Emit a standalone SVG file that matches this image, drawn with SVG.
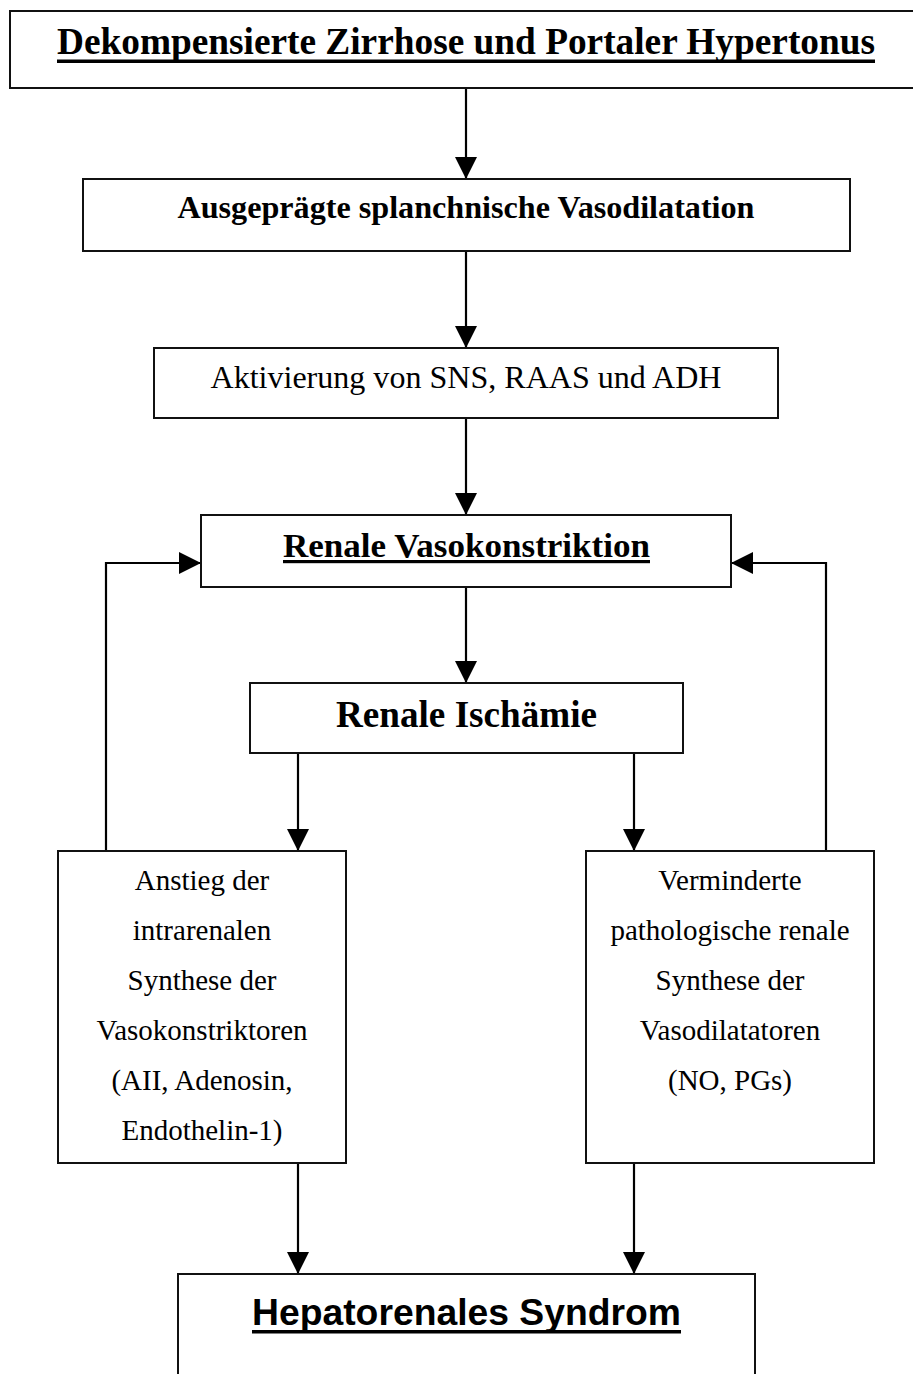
<svg xmlns="http://www.w3.org/2000/svg" width="913" height="1374" viewBox="0 0 913 1374">
<style>
.box{fill:#fff;stroke:#111;stroke-width:2}
.ser{font-family:"Liberation Serif","Times New Roman",serif;fill:#000;text-anchor:middle}
.b{font-weight:bold}
.san{font-family:"Liberation Sans",Arial,sans-serif;font-weight:bold;fill:#000;text-anchor:middle}
.con{fill:none;stroke:#000;stroke-width:2.2;marker-end:url(#ah)}
.ul{fill:#000}
</style>
<defs>
<marker id="ah" markerUnits="userSpaceOnUse" markerWidth="22" markerHeight="22" refX="22" refY="11" orient="auto">
<path d="M0,0 L22,11 L0,22 z" fill="#000"/>
</marker>
</defs>
<rect width="913" height="1374" fill="#fff"/>
<g id="connectors">
<path class="con" d="M466,88 V179"/>
<path class="con" d="M466,251 V348"/>
<path class="con" d="M466,418 V515"/>
<path class="con" d="M466,587 V683"/>
<path class="con" d="M298,753 V851"/>
<path class="con" d="M634,753 V851"/>
<path class="con" d="M106,851 V563 H201"/>
<path class="con" d="M826,851 V563 H731"/>
<path class="con" d="M298,1163 V1274"/>
<path class="con" d="M634,1163 V1274"/>
</g>
<g id="n1">
<rect class="box" x="10" y="11" width="920" height="77"/>
<text class="ser b" x="466" y="54" font-size="37" textLength="818" lengthAdjust="spacingAndGlyphs">Dekompensierte Zirrhose und Portaler Hypertonus</text>
<rect class="ul" x="57" y="59.5" width="818" height="3.5"/>
</g>
<g id="n2">
<rect class="box" x="83" y="179" width="767" height="72"/>
<text class="ser b" x="466" y="218" font-size="32" textLength="577" lengthAdjust="spacingAndGlyphs">Ausgeprägte splanchnische Vasodilatation</text>
</g>
<g id="n3">
<rect class="box" x="154" y="348" width="624" height="70"/>
<text class="ser" x="466" y="388" font-size="32" textLength="511" lengthAdjust="spacingAndGlyphs">Aktivierung von SNS, RAAS und ADH</text>
</g>
<g id="n4">
<rect class="box" x="201" y="515" width="530" height="72"/>
<text class="ser b" x="466.5" y="557" font-size="34.5" textLength="367" lengthAdjust="spacingAndGlyphs">Renale Vasokonstriktion</text>
<rect class="ul" x="283" y="560" width="367" height="3.2"/>
</g>
<g id="n5">
<rect class="box" x="250" y="683" width="433" height="70"/>
<text class="ser b" x="466.5" y="727" font-size="37" textLength="261" lengthAdjust="spacingAndGlyphs">Renale Ischämie</text>
</g>
<g id="n6">
<rect class="box" x="58" y="851" width="288" height="312"/>
<g class="ser" font-size="29">
<text x="202" y="890">Anstieg der</text>
<text x="202" y="940">intrarenalen</text>
<text x="202" y="990">Synthese der</text>
<text x="202" y="1040">Vasokonstriktoren</text>
<text x="202" y="1090">(AII, Adenosin,</text>
<text x="202" y="1140">Endothelin-1)</text>
</g>
</g>
<g id="n7">
<rect class="box" x="586" y="851" width="288" height="312"/>
<g class="ser" font-size="29">
<text x="730" y="890">Verminderte</text>
<text x="730" y="940">pathologische renale</text>
<text x="730" y="990">Synthese der</text>
<text x="730" y="1040">Vasodilatatoren</text>
<text x="730" y="1090">(NO, PGs)</text>
</g>
</g>
<g id="n8">
<rect class="box" x="178" y="1274" width="577" height="200"/>
<text class="san" x="466.5" y="1325" font-size="37" textLength="429" lengthAdjust="spacingAndGlyphs">Hepatorenales Syndrom</text>
<rect class="ul" x="252" y="1330" width="429" height="3.5"/>
</g>
</svg>
